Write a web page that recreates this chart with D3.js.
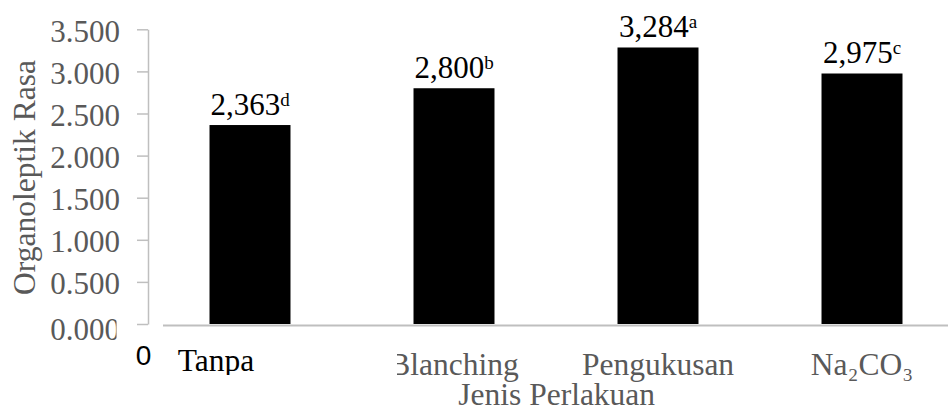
<!DOCTYPE html>
<html>
<head>
<meta charset="utf-8">
<script src="https://cdn.jsdelivr.net/npm/d3@7"></script>
<style>
  html, body { margin: 0; padding: 0; background: #fff; }
  svg { display: block; }
</style>
</head>
<body>
<svg id="chart" width="948" height="412"></svg>
<script>
// ---- data ----
const categories = ["Tanpa", "Blanching", "Pengukusan", "Na₂CO₃"];
const values = [2.363, 2.800, 3.284, 2.975];
const valueLabels = ["2,363", "2,800", "3,284", "2,975"];
const letters = ["d", "b", "a", "c"];
const yTicks = [0, 0.5, 1, 1.5, 2, 2.5, 3, 3.5];
const yTickLabels = ["0.000", "0.500", "1.000", "1.500", "2.000", "2.500", "3.000", "3.500"];
const yTitle = "Organoleptik Rasa";
const xTitle = "Jenis Perlakuan";
const originLabel = "0";

// ---- drawing ----
const W = 948, H = 412;
const svg = d3.select("#chart");
const serif = "'Liberation Serif', 'Times New Roman', serif";
const gray = "#595959";
const axisColor = "#bfbfbf";

const x = d3.scaleBand().domain(categories).range([148, 964])
  .paddingInner(0.603).paddingOuter(0.3015);
const y = d3.scaleLinear().domain([0, 3.5]).range([324, 29.3]);

const defs = svg.append("defs");
defs.append("clipPath").attr("id", "clipZero")
  .append("rect").attr("x", -200).attr("y", -50).attr("width", 168.5).attr("height", 100);
defs.append("clipPath").attr("id", "clipB")
  .append("rect").attr("x", 397).attr("y", 330).attr("width", 600).attr("height", 60);
defs.append("clipPath").attr("id", "clipT")
  .append("rect").attr("x", 0).attr("y", 330).attr("width", 400).attr("height", 45);

// y axis
const yAxis = d3.axisLeft(y)
  .tickValues(yTicks)
  .tickFormat((d, i) => yTickLabels[i])
  .tickSize(11)
  .tickSizeOuter(0)
  .tickPadding(17);
const gy = svg.append("g").attr("transform", "translate(148,0)").call(yAxis);
gy.select(".domain").attr("stroke", axisColor).attr("stroke-width", 1.5);
gy.selectAll(".tick line").attr("stroke", axisColor).attr("stroke-width", 1.5);
gy.selectAll(".tick text")
  .attr("fill", gray)
  .attr("font-family", serif)
  .attr("font-size", 31)
  .attr("dy", "0.39em");
gy.selectAll(".tick").filter(d => d === 0).select("text")
  .attr("dy", "0.5em")
  .attr("clip-path", "url(#clipZero)");

// bars
svg.append("g").selectAll("rect")
  .data(categories)
  .join("rect")
  .attr("x", d => x(d))
  .attr("width", x.bandwidth())
  .attr("y", (d, i) => y(values[i]))
  .attr("height", (d, i) => y(0) - y(values[i]))
  .attr("fill", "#000");

// x axis line
svg.append("line")
  .attr("x1", 163).attr("x2", W)
  .attr("y1", y(0) + 1.6).attr("y2", y(0) + 1.6)
  .attr("stroke", axisColor).attr("stroke-width", 2);

// data labels
const lab = svg.append("g").selectAll("text")
  .data(categories)
  .join("text")
  .attr("x", d => x(d) + x.bandwidth() / 2)
  .attr("y", (d, i) => y(values[i]) - 10.5)
  .attr("text-anchor", "middle")
  .attr("font-family", serif)
  .attr("font-size", 31)
  .attr("fill", "#000");
lab.append("tspan").text((d, i) => valueLabels[i]);
lab.append("tspan").attr("font-size", 19).attr("dy", -9).text((d, i) => letters[i]);

// x category labels
svg.append("g").selectAll("text")
  .data(categories)
  .join("text")
  .attr("x", (d, i) => x(d) + x.bandwidth() / 2 + (i === 0 ? -34 : 0))
  .attr("y", (d, i) => i === 0 ? 370.7 : 375)
  .attr("text-anchor", "middle")
  .attr("font-family", serif)
  .attr("font-size", 31.5)
  .attr("fill", (d, i) => i === 0 ? "#000" : gray)
  .attr("clip-path", (d, i) => i === 0 ? "url(#clipT)" : (i === 1 ? "url(#clipB)" : null))
  .text(d => d);

// origin "0"
svg.append("text")
  .attr("x", 143.5).attr("y", 365)
  .attr("text-anchor", "middle")
  .attr("font-family", "'Liberation Sans', Arial, sans-serif")
  .attr("font-size", 28)
  .attr("fill", "#000")
  .text(originLabel);

// axis titles
svg.append("text")
  .attr("x", 556.7).attr("y", 405)
  .attr("text-anchor", "middle")
  .attr("font-family", serif)
  .attr("font-size", 31.5)
  .attr("fill", gray)
  .text(xTitle);

svg.append("text")
  .attr("transform", "translate(35,177.5) rotate(-90)")
  .attr("text-anchor", "middle")
  .attr("font-family", serif)
  .attr("font-size", 31.5)
  .attr("fill", gray)
  .text(yTitle);
</script>
</body>
</html>
